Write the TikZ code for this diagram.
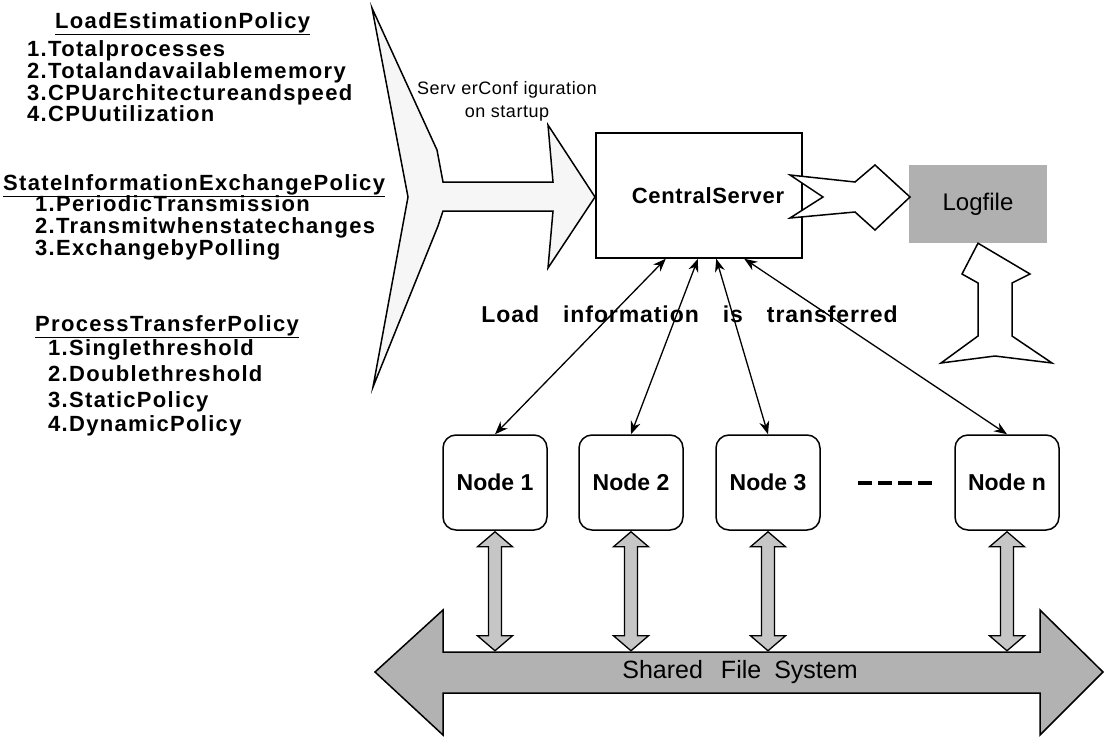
\documentclass[tikz,border=0pt]{standalone}
\usepackage{fontspec}
\setmainfont{Liberation Sans}
\newfontfamily\lsA{Liberation Sans}[LetterSpace=6]
\newfontfamily\lsB{Liberation Sans}[LetterSpace=3]
\newfontfamily\lsC{Liberation Sans}[LetterSpace=4]
\usetikzlibrary{calc,arrows.meta}
\tikzset{
  listtxt/.style={anchor=base west, inner sep=0pt, font=\lsA\bfseries\fontsize{22}{24}\selectfont},
  outline/.style={draw=black, line width=1.5pt, line join=miter},
  nodebox/.style={draw=black, line width=1.5pt, rounded corners=13pt, minimum width=104pt, minimum height=95pt, inner sep=0pt, font=\bfseries\fontsize{23}{26}\selectfont},
  link/.style={line width=1.3pt, {Stealth[length=13pt,width=10pt]}-{Stealth[length=13pt,width=10pt]}},
  fatarrow/.style={draw=black, line width=1.3pt, fill=gray!45},
}
\begin{document}
\begin{tikzpicture}[x=1pt,y=-1pt]
\useasboundingbox (0,0) rectangle (1104,737);

% left lists
\node[listtxt] (h1) at (55,28) {\underline{LoadEstimationPolicy}};
\node[listtxt] (a1) at (27,56) {1.Totalprocesses};
\node[listtxt] (a2) at (27,78) {2.Totalandavailablememory};
\node[listtxt] (a3) at (27,100) {3.CPUarchitectureandspeed};
\node[listtxt] (a4) at (27,121) {4.CPUutilization};
\node[listtxt] (h2) at (3,190) {\underline{StateInformationExchangePolicy}};
\node[listtxt] (b1) at (35,211) {1.PeriodicTransmission};
\node[listtxt] (b2) at (35,233) {2.Transmitwhenstatechanges};
\node[listtxt] (b3) at (35,255) {3.ExchangebyPolling};
\node[listtxt] (h3) at (35,331) {\underline{ProcessTransferPolicy}};
\node[listtxt] (c1) at (48,355) {1.Singlethreshold};
\node[listtxt] (c2) at (48,381) {2.Doublethreshold};
\node[listtxt] (c3) at (48,407) {3.StaticPolicy};
\node[listtxt] (c4) at (48,431) {4.DynamicPolicy};

% big input arrow
\draw[outline, fill=gray!7] (372,8) -- (408,197) -- (373,387) -- (438,226) -- (443,211)
  -- (553,211) -- (548,268) -- (595,197) -- (548,125) -- (553,182) -- (443,182)
  -- (437,150) -- cycle;
\node[align=center, inner sep=0pt, font=\lsB\fontsize{18}{23}\selectfont] (cfg) at (507,101)
  {Serv erConf iguration\\on startup};

% central server
\node[draw=black, line width=1.5pt, minimum width=206pt, minimum height=125pt, inner sep=0pt,
  font=\lsB\bfseries\fontsize{22}{24}\selectfont] (cs) at (699,195.5) {\hspace*{18pt}CentralServer};

% log file
\node[fill=gray!62, minimum width=138pt, minimum height=78pt, inner sep=0pt,
  font=\fontsize{24}{26}\selectfont] (log) at (978,204) {Logfile};

% arrow server -> log
\draw[outline, fill=white] (790,175) -- (855,182) -- (875,165) -- (910,197) -- (875,230)
  -- (855,212) -- (790,218) -- (823,197) -- cycle;

% up arrow to log
\draw[outline, fill=white] (log.south) -- (1030,274) -- (1012,283) -- (1012,336) -- (1052,363)
  -- (995,356) -- (941,363) -- (978,336) -- (978,283) -- (962,274) -- cycle;

% label
\node[inner sep=0pt, font=\lsC\bfseries\fontsize{23}{26}\selectfont] (lbl) at (689.5,314)
  {Load\hspace{24pt}information\hspace{24pt}is\hspace{24pt}transferred};

% nodes
\node[nodebox] (n1) at (495,482.5) {Node 1};
\node[nodebox] (n2) at (631,482.5) {Node 2};
\node[nodebox] (n3) at (768,482.5) {Node 3};
\node[nodebox] (nn) at (1007,482.5) {Node n};
\draw[line width=4pt, dash pattern=on 14pt off 6pt] (858,483) -- (932,483);

% links
\draw[link] ($(cs.south west)!0.34!(cs.south east)$) -- (n1.north);
\draw[link] ($(cs.south west)!0.495!(cs.south east)$) -- (n2.north);
\draw[link] ($(cs.south west)!0.583!(cs.south east)$) -- (n3.north);
\draw[link] ($(cs.south west)!0.718!(cs.south east)$) -- (nn.north);

% shared file system bus
\draw[outline, fill=gray!60] (375,672) -- (443,610) -- (443,652) -- (1040,652) -- (1040,610)
  -- (1103,672) -- (1040,735) -- (1040,693) -- (443,693) -- (443,735) -- cycle;
\node[inner sep=0pt, font=\fontsize{25}{27}\selectfont] (fs) at (740,672)
  {Shared\hspace{18pt}File\hspace{13pt}System};

% node <-> bus arrows
\foreach \n in {n1,n2,n3,nn}{
  \draw[fatarrow] ($(\n.south)+(0,1)$) -- ++(-17.5,15) -- ++(11,0) -- ++(0,89) -- ++(-11,0)
    -- ++(17.5,15) -- ++(17.5,-15) -- ++(-11,0) -- ++(0,-89) -- ++(11,0) -- cycle;
}
\end{tikzpicture}
\end{document}
